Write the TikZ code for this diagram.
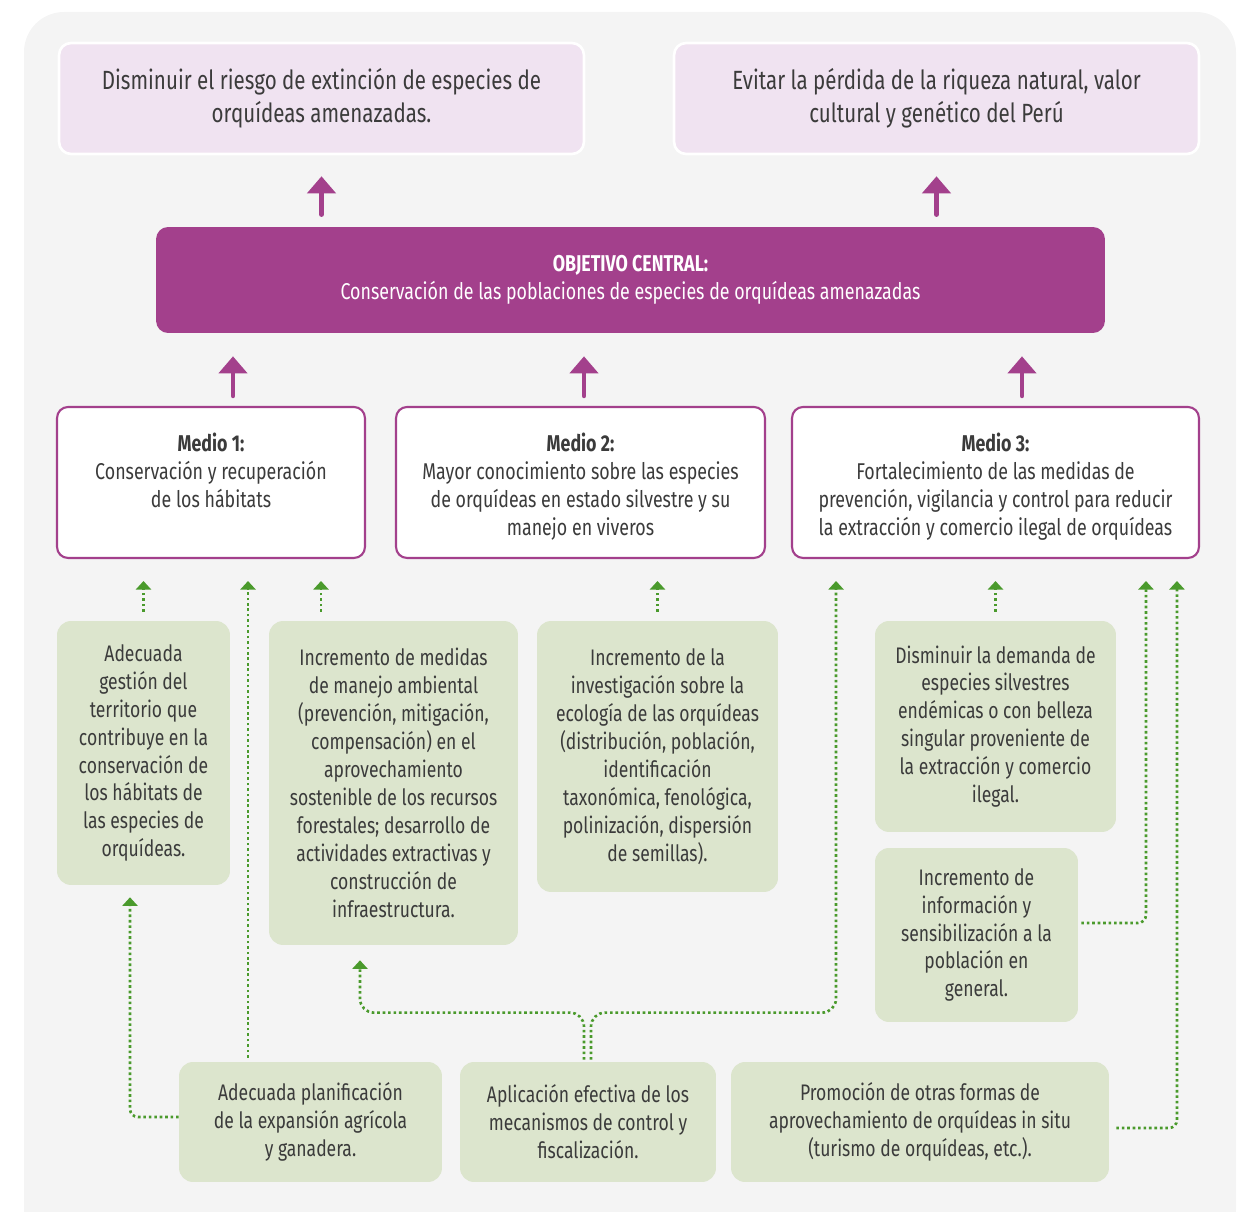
\documentclass[tikz,border=0pt]{standalone}
\usepackage{fontspec}
\setmainfont{Fira Sans}[FakeStretch=0.78]
\usetikzlibrary{arrows.meta}

\definecolor{fondo}{HTML}{F4F4F4}
\definecolor{lila}{HTML}{F0E3F1}
\definecolor{morado}{HTML}{A3408C}
\definecolor{verdeclaro}{HTML}{DCE5CD}
\definecolor{verde}{HTML}{4A9A2C}
\definecolor{texto}{HTML}{3B3B3B}

\tikzset{
  fin/.style={fill=lila, draw=white, line width=1.5pt, rounded corners=0.24cm,
    text=texto, align=center, font=\fontsize{15}{18.7}\selectfont},
  central/.style={fill=morado, rounded corners=0.24cm, text=white, align=center,
    font=\fontsize{13}{15.9}\selectfont},
  medio/.style={fill=white, draw=morado, line width=1.2pt, rounded corners=0.22cm},
  mediotxt/.style={anchor=north, inner sep=0pt, text=texto, align=center,
    font=\fontsize{13}{15.9}\selectfont},
  accion/.style={fill=verdeclaro, rounded corners=0.28cm, text=texto, align=center,
    font=\fontsize{12.8}{15.9}\selectfont},
  flecha/.style={morado, line width=2.6pt, line cap=round,
    -{Triangle[width=0.56cm,length=0.34cm]}},
  punteada/.style={verde, line width=1.5pt, dash pattern=on 1.5pt off 1.6pt,
    -{Triangle[width=0.3cm,length=0.17cm]}},
}

\begin{document}
\begin{tikzpicture}[x=0.02cm,y=-0.02cm]

\useasboundingbox (0,0) rectangle (1242,1212);
\fill[fondo, rounded corners=0.8cm] (24,12) rectangle (1236,1250);

% fines
\node[fin, minimum width=10.5cm, minimum height=2.22cm] (F1) at (321.5,98.5)
  {Disminuir el riesgo de extinción de especies de\\orquídeas amenazadas.};
\node[fin, minimum width=10.5cm, minimum height=2.22cm] (F2) at (936.5,98.5)
  {Evitar la pérdida de la riqueza natural, valor\\cultural y genético del Perú};

% objetivo central
\node[central, minimum width=18.98cm, minimum height=2.12cm] (OC) at (630.5,280)
  {\textbf{OBJETIVO CENTRAL:}\\Conservación de las poblaciones de especies de orquídeas amenazadas};

% medios
\node[medio, minimum width=6.16cm, minimum height=3.02cm] (M1) at (211,482.5) {};
\node[medio, minimum width=7.38cm, minimum height=3.02cm] (M2) at (580.5,482.5) {};
\node[medio, minimum width=8.14cm, minimum height=3.02cm] (M3) at (995.5,482.5) {};
\node[mediotxt] (T1) at ([yshift=-0.54cm]M1.north)
  {\textbf{Medio 1:}\\Conservación y recuperación\\de los hábitats};
\node[mediotxt] (T2) at ([yshift=-0.54cm]M2.north)
  {\textbf{Medio 2:}\\Mayor conocimiento sobre las especies\\de orquídeas en estado silvestre y su\\manejo en viveros};
\node[mediotxt] (T3) at ([yshift=-0.54cm]M3.north)
  {\textbf{Medio 3:}\\Fortalecimiento de las medidas de\\prevención, vigilancia y control para reducir\\la extracción y comercio ilegal de orquídeas};

% acciones
\node[accion, minimum width=3.46cm, minimum height=5.28cm] (A1) at (143.5,753)
  {Adecuada\\gestión del\\territorio que\\contribuye en la\\conservación de\\los hábitats de\\las especies de\\orquídeas.};
\node[accion, minimum width=4.98cm, minimum height=6.48cm] (A2) at (393.5,783)
  {Incremento de medidas\\de manejo ambiental\\(prevención, mitigación,\\compensación) en el\\aprovechamiento\\sostenible de los recursos\\forestales; desarrollo de\\actividades extractivas y\\construcción de\\infraestructura.};
\node[accion, minimum width=4.82cm, minimum height=5.42cm] (A3) at (657.5,756.5)
  {Incremento de la\\investigación sobre la\\ecología de las orquídeas\\(distribución, población,\\identificación\\taxonómica, fenológica,\\polinización, dispersión\\de semillas).};
\node[accion, minimum width=4.82cm, minimum height=4.22cm] (A4) at (995.5,726.5)
  {Disminuir la demanda de\\especies silvestres\\endémicas o con belleza\\singular proveniente de\\la extracción y comercio\\ilegal.};
\node[accion, minimum width=4.06cm, minimum height=3.48cm] (A5) at (976.5,935)
  {Incremento de\\información y\\sensibilización a la\\población en\\general.};
\node[accion, minimum width=5.26cm, minimum height=2.4cm] (B1) at (310.5,1122)
  {Adecuada planificación\\de la expansión agrícola\\y ganadera.};
\node[accion, minimum width=5.12cm, minimum height=2.4cm] (B2) at (588,1122)
  {Aplicación efectiva de los\\mecanismos de control y\\fiscalización.};
\node[accion, minimum width=7.56cm, minimum height=2.4cm] (B3) at (920,1122)
  {Promoción de otras formas de\\aprovechamiento de orquídeas in situ\\(turismo de orquídeas, etc.).};

% flechas moradas
\draw[flecha, shorten <=0.24cm, shorten >=0.42cm] (F1.south |- OC.north) -- (F1.south);
\draw[flecha, shorten <=0.24cm, shorten >=0.42cm] (F2.south |- OC.north) -- (F2.south);
\draw[flecha, shorten <=0.2cm, shorten >=0.46cm] ([xshift=0.44cm]M1.north) -- ([xshift=0.44cm]M1.north |- OC.south);
\draw[flecha, shorten <=0.2cm, shorten >=0.46cm] ([xshift=0.07cm]M2.north) -- ([xshift=0.07cm]M2.north |- OC.south);
\draw[flecha, shorten <=0.2cm, shorten >=0.46cm] ([xshift=0.53cm]M3.north) -- ([xshift=0.53cm]M3.north |- OC.south);

% flechas punteadas
\draw[punteada, shorten <=0.18cm, shorten >=0.44cm] (A1.north) -- (A1.north |- M1.south);
\draw[punteada, shorten <=0.18cm, shorten >=0.44cm] ([xshift=-1.45cm]A2.north) -- ([xshift=-1.45cm]A2.north |- M1.south);
\draw[punteada, shorten <=0.18cm, shorten >=0.44cm] (A3.north) -- (A3.north |- M2.south);
\draw[punteada, shorten <=0.18cm, shorten >=0.44cm] (A4.north) -- (A4.north |- M3.south);
\draw[punteada, shorten <=0.08cm, shorten >=0.44cm] ([xshift=-1.25cm]B1.north) -- ([xshift=-1.25cm]B1.north |- M1.south);
\draw[punteada, rounded corners=0.16cm] ([yshift=0.1cm]B1.west) -| ([xshift=-0.27cm,yshift=-0.24cm]A1.south);
\draw[punteada, rounded corners=0.28cm] ([xshift=-0.08cm,yshift=0.04cm]B2.north) -- ++(0,-47) -| ([xshift=-0.67cm,yshift=-0.3cm]A2.south);
\draw[punteada, rounded corners=0.28cm] ([xshift=0.06cm,yshift=0.04cm]B2.north) -- ++(0,-47) -| ([xshift=-3.19cm,yshift=-0.44cm]M3.south);
\draw[punteada, rounded corners=0.16cm] ([xshift=0.06cm,yshift=0.24cm]A5.east) -| ([xshift=3.01cm,yshift=-0.44cm]M3.south);
\draw[punteada, rounded corners=0.16cm] ([xshift=0.14cm,yshift=-0.12cm]B3.east) -| ([xshift=3.63cm,yshift=-0.44cm]M3.south);

\end{tikzpicture}
\end{document}
